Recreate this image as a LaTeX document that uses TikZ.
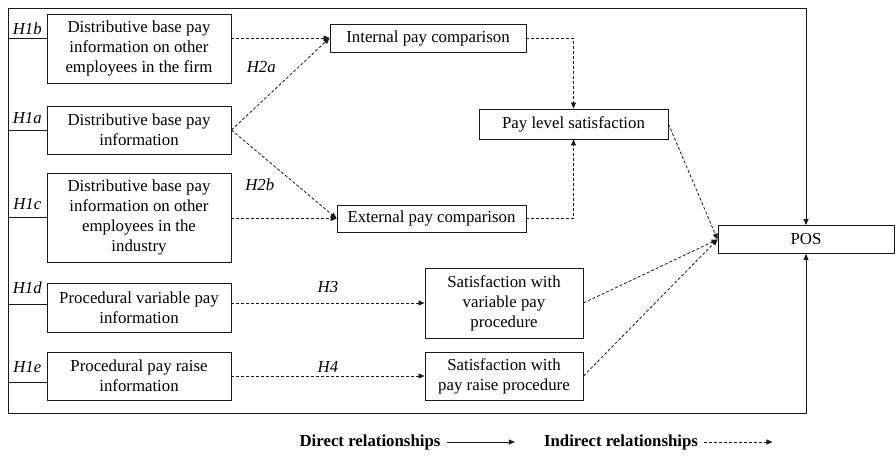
\documentclass[tikz,border=0pt]{standalone}
\usepackage{fontspec}
\setmainfont{Liberation Serif}
\usepackage{xcolor}
\definecolor{cMain}{HTML}{1A1A1A}
\usepackage{tikz}
\usetikzlibrary{positioning,arrows.meta,calc}
\tikzset{
  node-box/.style={draw=cMain,line width=0.9pt,minimum width=184pt,
    align=center,inner sep=2pt,font=\fontsize{16.8}{20}\selectfont},
  node-hyp/.style={font=\fontsize{16.8}{20}\selectfont\itshape,inner sep=2pt},
  node-legend/.style={font=\fontsize{16.8}{20}\selectfont\bfseries},
  link/.style={line width=0.9pt,draw=cMain},
  arrow-direct/.style={-{Stealth[length=6pt,width=5pt,inset=0pt]},
    line width=0.9pt,draw=cMain},
  arrow-indirect/.style={-{Stealth[length=6pt,width=5pt,inset=0pt]},
    line width=0.8pt,draw=cMain,dash pattern=on 3pt off 2pt},
}

\begin{document}
\begin{tikzpicture}[x=1pt,y=-1pt]
  \useasboundingbox (0,0) rectangle (896,455);
  \coordinate (lt) at (8,8);
  \coordinate (lb) at (8,413);
  % information boxes
  \node[node-box,minimum height=69pt] (h1b) at (139,48.5)
    {Distributive base pay\\information on other\\employees in the firm};
  \node[node-box,minimum height=48pt] (h1a) at (139,130)
    {Distributive base pay\\information};
  \node[node-box,minimum height=89pt] (h1c) at (139,217.5)
    {Distributive base pay\\information on other\\employees in the\\industry};
  \node[node-box,minimum height=49pt] (h1d) at (139,307.5)
    {Procedural variable pay\\information};
  \node[node-box,minimum height=48pt] (h1e) at (139,376)
    {Procedural pay raise\\information};
  % comparisons and satisfaction
  \node[node-box,minimum width=196pt,minimum height=28pt] (internal) at (428,38)
    {Internal pay comparison};
  \node[node-box,minimum width=189pt,minimum height=27pt] (external) at (431.5,218.5)
    {External pay comparison};
  \node[node-box,minimum width=189pt,minimum height=30pt] (paylevel) at (573.5,124)
    {Pay level satisfaction};
  \node[node-box,minimum width=158pt,minimum height=70pt] (varpay) at (504,303)
    {Satisfaction with\\variable pay\\procedure};
  \node[node-box,minimum width=158pt,minimum height=48pt] (raise) at (504,376)
    {Satisfaction with\\pay raise procedure};
  \node[node-box,minimum width=176pt,minimum height=28pt] (pos) at (806,239.5) {POS};
  % branch points on the frame
  \coordinate (b1b) at ([yshift=10.5pt]h1b.west);
  \coordinate (b1a) at (h1a.west);
  \coordinate (b1c) at (h1c.west);
  \coordinate (b1d) at ([yshift=3.5pt]h1d.west);
  \coordinate (b1e) at ([yshift=-6pt]h1e.west);
  \draw[link] (lt) -- (lb);
  \draw[link] (lt |- b1b) -- node[node-hyp,above=1pt]{H1b} (b1b);
  \draw[link] (lt |- b1a) -- node[node-hyp,above=4pt]{H1a} (b1a);
  \draw[link] (lt |- b1c) -- node[node-hyp,above=5pt]{H1c} (b1c);
  \draw[link] (lt |- b1d) -- node[node-hyp,above=8pt]{H1d} (b1d);
  \draw[link] (lt |- b1e) -- node[node-hyp,above=7pt]{H1e} (b1e);
  \draw[arrow-direct] (lt) -| (pos.north);
  \draw[arrow-direct] (lb) -| (pos.south);
  % indirect paths
  \draw[arrow-indirect] (h1b.east |- internal) -- (internal);
  \draw[arrow-indirect] (h1a.east) -- node[node-hyp,pos=0.68,left=20pt]{H2a} (internal.west);
  \draw[arrow-indirect] (h1a.east) -- node[node-hyp,pos=0.62,left=20pt]{H2b} (external.west);
  \draw[arrow-indirect] (h1c.east |- external) -- (external);
  \draw[arrow-indirect] (internal) -| (paylevel);
  \draw[arrow-indirect] (external) -| (paylevel);
  \draw[arrow-indirect] (h1d.east |- varpay) -- node[node-hyp,above=8pt]{H3} (varpay);
  \draw[arrow-indirect] (h1e.east |- raise) -- node[node-hyp,above=1pt]{H4} (raise);
  \draw[arrow-indirect] (paylevel.east) -- (pos.west);
  \draw[arrow-indirect] (varpay.east) -- (pos.west);
  \draw[arrow-indirect] (raise.east) -- (pos.west);
  % legend
  \node[node-legend] (direct) at (370,442) {Direct relationships};
  \node[node-legend] (indirect) at (621,442) {Indirect relationships};
  \draw[arrow-direct] ([xshift=3pt]direct.east) -- ++(68pt,0);
  \draw[arrow-indirect] ([xshift=3pt]indirect.east) -- ++(68pt,0);
\end{tikzpicture}
\end{document}
